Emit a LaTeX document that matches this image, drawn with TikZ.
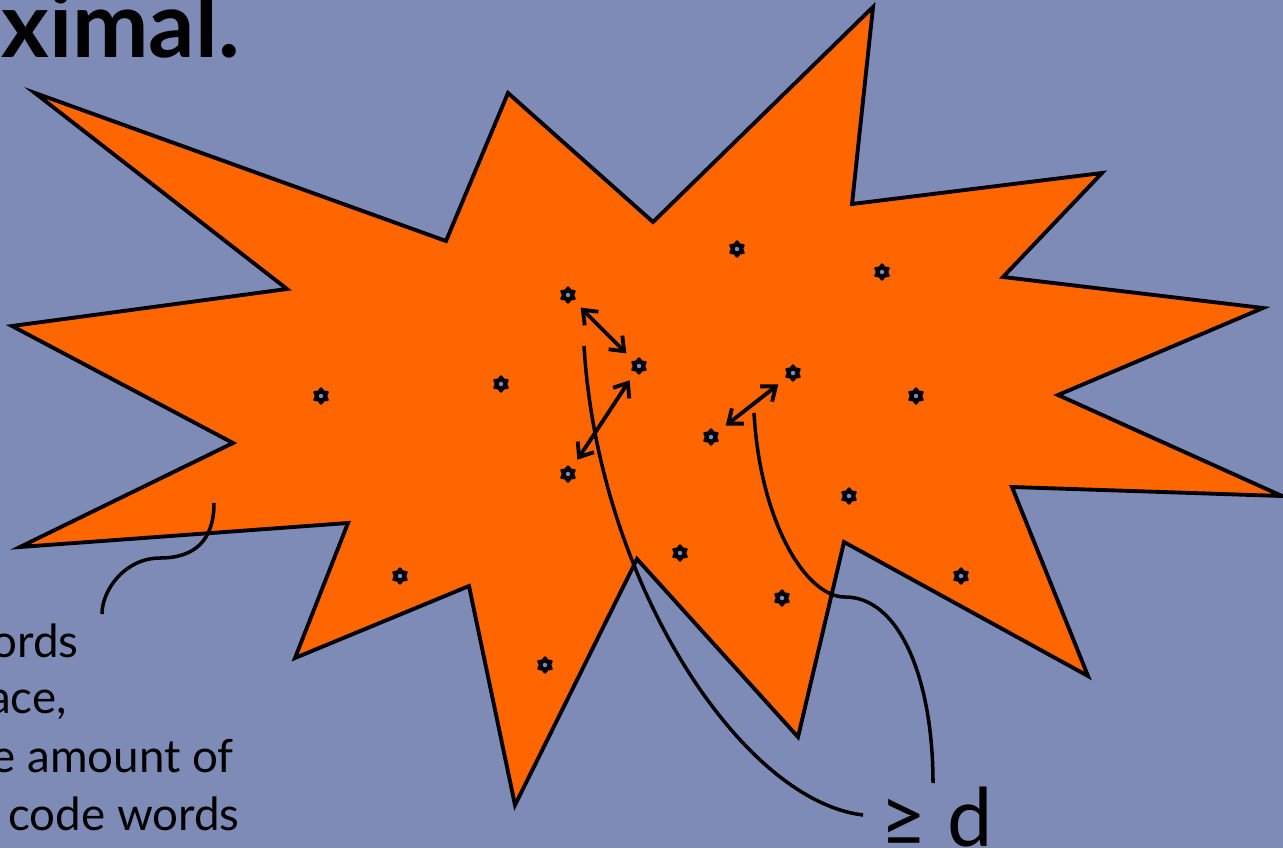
\documentclass[tikz,border=0pt]{standalone}
\usepackage{fontspec}
\setmainfont{Lato}
\usepackage{xcolor}
\usetikzlibrary{
	arrows.meta,
	shapes.geometric
}
\definecolor{slate}{RGB}{127,139,183}
\definecolor{blast}{RGB}{255,102,0}

\begin{document}
\begin{tikzpicture}[
        x=0.02cm, y=-0.02cm,
        >={Straight Barb[length=7pt,width=11pt]},
        % code word marker
        cw/.style={
            star, star points=6, star point ratio=1.5,
            fill=black, draw=black, line width=1.4pt, line join=round,
            minimum size=0.3cm, inner sep=0pt,
            path picture={
                \fill[slate] (path picture bounding box.center) circle (0.045cm);
            }
        },
        % the burst shape
        blob/.style={fill=blast, draw=black, line width=2.2pt, line join=miter},
        % distance arrows
        dist/.style={<->, line width=2.2pt, shorten <=6pt, shorten >=6pt},
        brace/.style={line width=2pt},
        txt/.style={font=\fontsize{26}{30}\selectfont, inner sep=0pt, anchor=base east}
    ]

        % ====================
        % background
        % ====================
        \useasboundingbox (0,0) rectangle (1283,848);
        \clip (0,0) rectangle (1283,848);
        \fill[slate] (0,0) rectangle (1283,848);

        % ====================
        % burst
        % ====================
        \path[blob] (35,93) -- (446,241) -- (508,93) -- (653,222) -- (873,7)
            -- (852,204) -- (1102,173) -- (1003,277) -- (1263,308) -- (1058,395)
            -- (1282,496) -- (1012,487) -- (1088,676) -- (844,542) -- (798,737)
            -- (637,559) -- (515,805) -- (469,586) -- (295,658) -- (348,523)
            -- (20,547) -- (233,443) -- (12,326) -- (287,289) -- cycle;

        % ====================
        % code words
        % ====================
        \node[cw] (cw1) at (568,295) {};
        \node[cw] (cw2) at (737,249) {};
        \node[cw] (cw3) at (882,272) {};
        \node[cw] (cw4) at (639,366) {};
        \node[cw] (cw5) at (501,384) {};
        \node[cw] (cw6) at (321,396) {};
        \node[cw] (cw7) at (793,373) {};
        \node[cw] (cw8) at (916,396) {};
        \node[cw] (cw9) at (711,437) {};
        \node[cw] (cw10) at (568,474) {};
        \node[cw] (cw11) at (849,496) {};
        \node[cw] (cw12) at (680,553) {};
        \node[cw] (cw13) at (400,576) {};
        \node[cw] (cw14) at (782,598) {};
        \node[cw] (cw15) at (961,576) {};
        \node[cw] (cw16) at (545,665) {};

        % distances between neighbours
        \draw[dist] (cw1) -- (cw4);
        \draw[dist] (cw4) -- (cw10);
        \draw[dist] (cw7) -- (cw9);

        % ====================
        % labels
        % ====================
        \node[font=\fontsize{52}{58}\selectfont\bfseries, inner sep=0pt, anchor=base east] (ttl) at (240,58) {ximal.};

        \node[txt] (l1) at (79,657) {ords};
        \node[txt] (l2) at (67,713) {ace,};
        \node[txt] (l3) at (234,772) {e amount of};
        \node[txt] (l4) at (240,830) {code words};

        \node[font=\fontsize{46}{50}\selectfont, inner sep=0pt, anchor=base west] (gd) at (880,846) {≥ d};

        % ====================
        % braces
        % ====================
        \coordinate (b1s) at (584,346);
        \coordinate (b1e) at (863,815);
        \coordinate (b2s) at (754,413);
        \coordinate (b2m) at (845,597);
        \coordinate (b2e) at (933,783);
        \coordinate (b3s) at (214,503);
        \coordinate (b3m) at (160,558);
        \coordinate (b3e) at (102,614);

        \draw[brace] (b1s) .. controls (598,580) and (740,800) .. (b1e);
        \draw[brace] (b2s) .. controls (760,520) and (805,597) .. (b2m)
            .. controls (900,597) and (933,680) .. (b2e);
        \draw[brace] (b3s) .. controls (214,540) and (195,558) .. (b3m)
            .. controls (125,558) and (102,590) .. (b3e);

    \end{tikzpicture}
\end{document}
